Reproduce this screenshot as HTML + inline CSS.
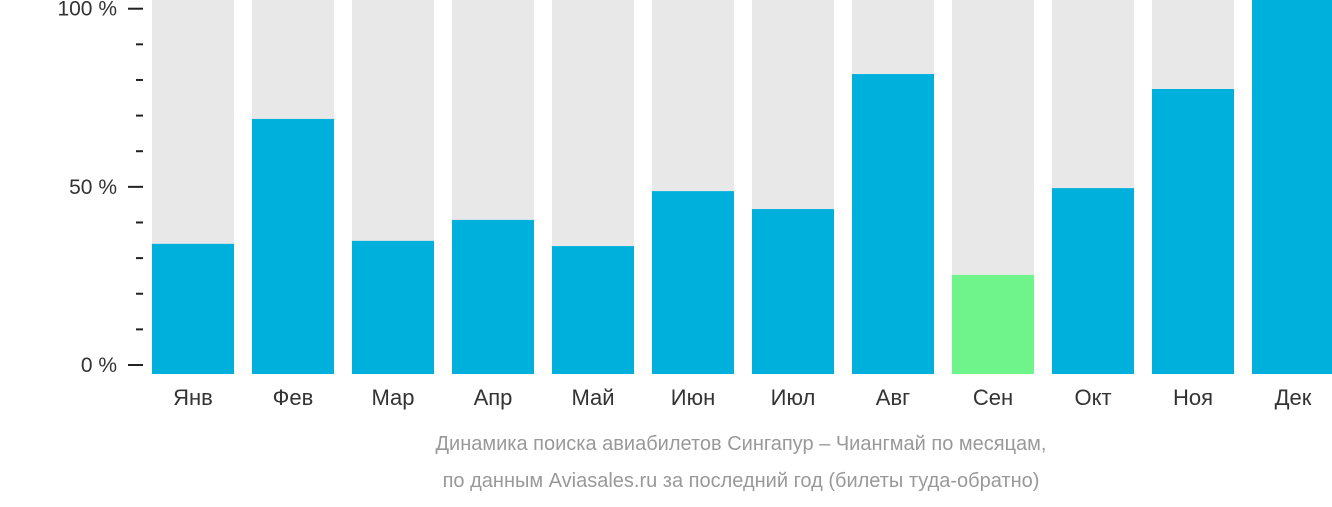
<!DOCTYPE html>
<html><head><meta charset="utf-8"><style>
body{margin:0;background:#fff;width:1332px;height:502px;overflow:hidden;font-family:"Liberation Sans","DejaVu Sans",sans-serif}
</style></head><body>
<svg width="1332" height="502" id="c"></svg>
<script>
const months=["Янв","Фев","Мар","Апр","Май","Июн","Июл","Авг","Сен","Окт","Ноя","Дек"];
const values=[34.8,68.2,35.6,41.2,34.2,48.9,44.1,80.2,26.5,49.7,76.2,100];
const highlight=[false,false,false,false,false,false,false,false,true,false,false,false];
const tickLabels=["0 %","50 %","100 %"];
const tickValues=[0,50,100];
const NS="http://www.w3.org/2000/svg",svg=document.getElementById('c');
const base=374,top0=0;
const y=v=>base-(base-top0)*v/100;
const ty=v=>365-(365-8.7)*v/100;
const x=i=>152+i*100;
function el(t,a){const e=document.createElementNS(NS,t);for(const k in a)e.setAttribute(k,a[k]);svg.appendChild(e);return e;}
months.forEach((m,i)=>{
 const bg=el('rect',{x:x(i),y:top0,width:82,height:base-top0,fill:'#e8e8e8'});
 
 
 const b=el('rect',{x:x(i),y:y(values[i]),width:82,height:base-y(values[i]),fill:highlight[i]?'#6ef48a':'#00b0dc'});
 
 
 const t=el('text',{x:x(i)+41,y:405,'text-anchor':'middle','font-size':22,fill:'#333'});
 t.textContent=m;
 
 
});
for(let v=0;v<=100;v+=10){
 const major=tickValues.includes(v);
 const l=el('line',{x1:major?128:136,x2:143,y1:ty(v),y2:ty(v),stroke:'#222','stroke-width':2});
 
 
}
tickValues.forEach((v,i)=>{
 const t=el('text',{x:117,y:ty(v)+7,'text-anchor':'end','font-size':21,fill:'#333'});
 t.textContent=tickLabels[i];
 
 
});
[["Динамика поиска авиабилетов Сингапур – Чиангмай по месяцам,",450],["по данным Aviasales.ru за последний год (билеты туда-обратно)",487]].forEach((c,i)=>{
 const t=el('text',{x:741,y:c[1],'text-anchor':'middle','font-size':20,fill:'#999'});
 t.textContent=c[0];
 
 
});
</script>
</body></html>
